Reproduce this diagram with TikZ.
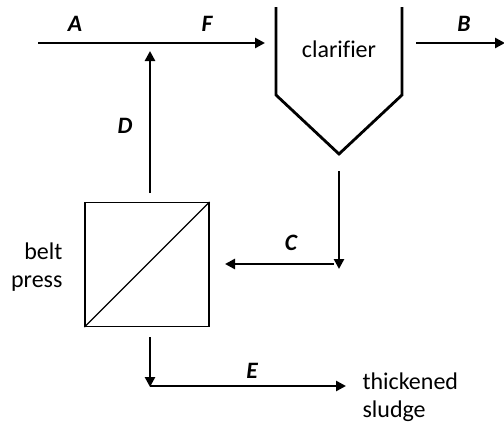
\documentclass[tikz,border=0pt]{standalone}
\usepackage{fontspec}
\setmainfont{Carlito}[Ligatures=CommonOff]
\usetikzlibrary{arrows.meta}
\tikzset{
  flow/.style={line width=2.8pt,-{Triangle[length=10pt,width=10pt]}},
  wall/.style={line width=2.8pt,line join=miter},
  lbl/.style={font=\fontsize{23.5}{26}\selectfont\bfseries\itshape},
  txt/.style={font=\fontsize{24}{28}\selectfont},
}
\begin{document}
\begin{tikzpicture}[x=1pt,y=-1pt]
\useasboundingbox (0,0) rectangle (504,426);
% coordinates
\coordinate (a0) at (38,43);
\coordinate (fT) at (265,43);
\coordinate (dS) at (150,193);
\coordinate (dT) at (150,51);
\coordinate (b0) at (416,43);
\coordinate (bT) at (505,43);
\coordinate (c0) at (339,171);
\coordinate (cT) at (339,269);
\coordinate (c1) at (334,264);
\coordinate (c2) at (225,264);
\coordinate (e0) at (150,337);
\coordinate (eT) at (150,387);
\coordinate (e1) at (150,386);
\coordinate (e2) at (346,386);
% clarifier
\draw[wall] (276,7) -- (276,95) -- (339,154) -- (402,95) -- (402,7);
\node[txt] (clar) at (339,49) {clarifier};
% belt press
\node[draw,line width=1.2pt,minimum size=124pt,inner sep=0pt] (bp) at (147,264.5) {};
\draw[line width=1.2pt] (bp.south west) -- (bp.north east);
\node[txt,align=right,anchor=east] (bpl) at (66,267) {belt\\press};
% flows
\draw[flow] (a0) -- (fT);
\draw[flow] (dS) -- (dT);
\draw[flow] (b0) -- (bT);
\draw[flow] (c0) -- (cT);
\draw[flow] (c1) -- (c2);
\draw[flow] (e0) -- (eT);
\draw[flow] (e1) -- (e2);
% labels
\node[lbl] (A) at (75,24) {A};
\node[lbl] (F) at (207,24) {F};
\node[lbl] (B) at (464,24) {B};
\node[lbl] (D) at (125,126) {D};
\node[lbl] (C) at (291,243) {C};
\node[lbl] (E) at (252,371) {E};
\node[txt,align=left,anchor=west] (ts) at (359,397) {thickened\\sludge};
\end{tikzpicture}
\end{document}
